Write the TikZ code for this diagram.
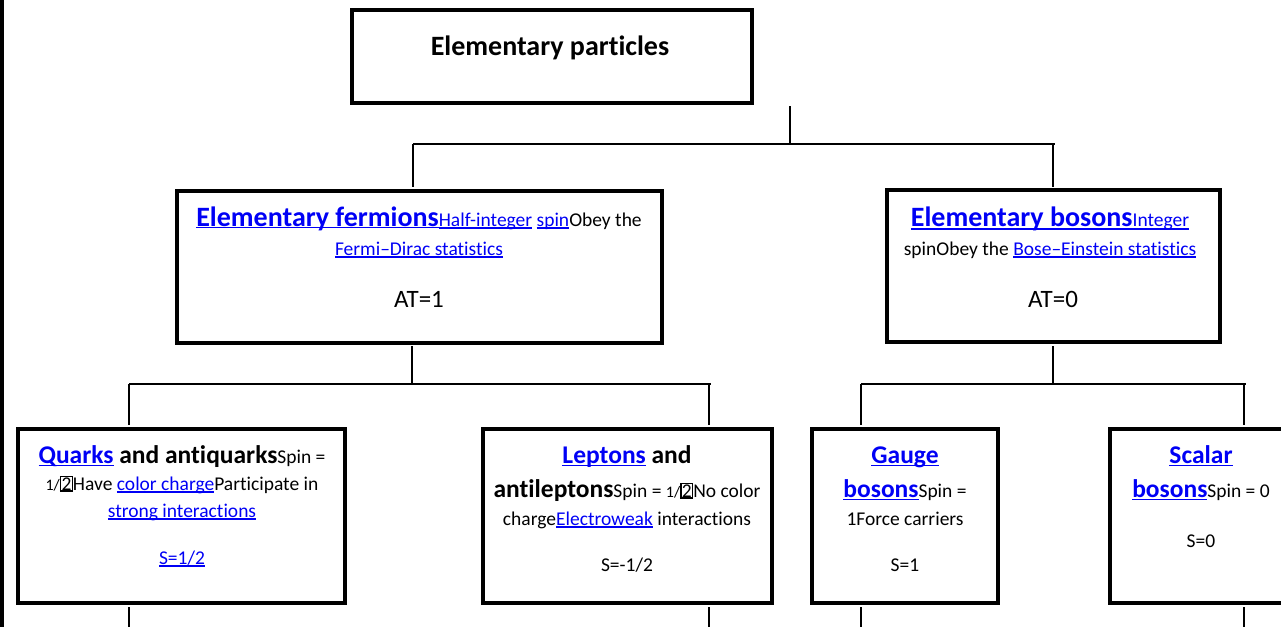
\documentclass[tikz,border=0pt]{standalone}
\usepackage{fontspec}
\setmainfont{Carlito}[Ligatures=NoCommon]
\definecolor{lb}{RGB}{0,0,245}
\newcommand\lk[1]{\textcolor{lb}{\setbox0\hbox{#1}\rlap{\rule[-0.13em]{\wd0}{0.065em}}\box0}}
\newcommand\fB{\fontsize{28}{28}\selectfont\bfseries}
\newcommand\fM{\fontsize{25.5}{25.5}\selectfont\bfseries}
\newcommand\fS{\fontsize{19.5}{19.5}\selectfont\mdseries}
\newcommand\fT{\fontsize{16}{16}\selectfont\mdseries}
\newcommand\fA{\fontsize{25}{25}\selectfont\mdseries}
\newcommand\tw{{\fT 1/}{\fS\setlength\fboxsep{0.3pt}\setlength\fboxrule{1.3pt}\fbox{2}}}
\tikzset{
  pbox/.style={draw=black, line width=4.5pt, inner sep=0pt},
  conn/.style={draw=black, line width=2pt},
  tl/.style={anchor=base, inner sep=0pt, text=black}
}
\begin{document}
\begin{tikzpicture}[x=1pt,y=-1pt]
\useasboundingbox (0,0) rectangle (1281,627);
\begin{scope}
\clip (0,0) rectangle (1281,627);
% left bar
\fill[black] (0,0) rectangle (4,627);
% boxes
\node[pbox, minimum width=400pt, minimum height=93pt] (top) at (552,56.5) {};
\node[pbox, minimum width=485pt, minimum height=152pt] (ferm) at (419.5,267) {};
\node[pbox, minimum width=333pt, minimum height=152pt] (bos) at (1053.5,266) {};
\node[pbox, minimum width=327pt, minimum height=174pt] (quark) at (181.5,516) {};
\node[pbox, minimum width=289pt, minimum height=174pt] (lept) at (627.5,516) {};
\node[pbox, minimum width=186pt, minimum height=174pt] (gauge) at (905,516) {};
\node[pbox, minimum width=182pt, minimum height=174pt] (scal) at (1201,516) {};
% connector points
\coordinate (t1) at (790,106);
\coordinate (t2) at (790,144);
\coordinate (hL) at (413,144);
\coordinate (hR) at (1055,144);
\coordinate (fU) at (413,187);
\coordinate (bU) at (1053,187);
\coordinate (fD1) at (412,346);
\coordinate (fD2) at (412,384);
\coordinate (bD1) at (1053,346);
\coordinate (bD2) at (1053,384);
\coordinate (gL) at (129,384);
\coordinate (gR) at (711,384);
\coordinate (kL) at (861,384);
\coordinate (kR) at (1246,384);
\coordinate (qU) at (129,425);
\coordinate (lU) at (709,425);
\coordinate (gaU) at (861,425);
\coordinate (sU) at (1244,425);
\coordinate (qD) at (129,607);
\coordinate (lD) at (709,607);
\coordinate (gaD) at (861,607);
\coordinate (sD) at (1244,607);
\coordinate (qE) at (129,627);
\coordinate (lE) at (709,627);
\coordinate (gaE) at (861,627);
\coordinate (sE) at (1244,627);
\draw[conn] (t1) -- (t2);
\draw[conn] (hL) -- (hR);
\draw[conn] (hL) -- (fU);
\draw[conn] (hR -| bU) -- (bU);
\draw[conn] (fD1) -- (fD2);
\draw[conn] (bD1) -- (bD2);
\draw[conn] (gL) -- (gR);
\draw[conn] (kL) -- (kR);
\draw[conn] (gL) -- (qU);
\draw[conn] (gR -| lU) -- (lU);
\draw[conn] (kL) -- (gaU);
\draw[conn] (kR -| sU) -- (sU);
\draw[conn] (qD) -- (qE);
\draw[conn] (lD) -- (lE);
\draw[conn] (gaD) -- (gaE);
\draw[conn] (sD) -- (sE);
% texts
\node[tl] (ttop) at (550,55) {\fB Elementary particles};
\node[tl] (f1) at (419,226) {\lk{\fB Elementary fermions}{\fS\lk{Half-integer} \lk{spin}Obey the}};
\node[tl] (f2) at (419,255) {\fS\lk{Fermi–Dirac statistics}};
\node[tl] (f3) at (419,307) {\fA AT=1};
\node[tl] (b1) at (1050,226) {\fB\lk{Elementary bosons{\fS Integer}}};
\node[tl] (b2) at (1050,255) {\fS spinObey the \lk{Bose–Einstein statistics}};
\node[tl] (b3) at (1053,307) {\fA AT=0};
\node[tl] (q1) at (182,463) {\fM\lk{Quarks} and antiquarks{\fS Spin =}};
\node[tl] (q2) at (182,490) {\fS\tw Have \lk{color charge}Participate in};
\node[tl] (q3) at (182,517) {\fS\lk{strong interactions}};
\node[tl] (q4) at (182,564) {\fS\lk{S=1/2}};
\node[tl] (l1) at (627,463) {\fM\lk{Leptons} and};
\node[tl] (l2) at (627,497) {\fM antileptons{\fS Spin = \tw No color}};
\node[tl] (l3) at (627,525) {\fS charge\lk{Electroweak} interactions};
\node[tl] (l4) at (627,571) {\fS S=-1/2};
\node[tl] (g1) at (905,463) {\fM\lk{Gauge}};
\node[tl] (g2) at (905,497) {\fM\lk{bosons}{\fS Spin =}};
\node[tl] (g3) at (905,525) {\fS 1Force carriers};
\node[tl] (g4) at (905,571) {\fS S=1};
\node[tl] (s1) at (1201,463) {\fM\lk{Scalar}};
\node[tl] (s2) at (1201,497) {\fM\lk{bosons}{\fS Spin = 0}};
\node[tl] (s3) at (1201,547) {\fS S=0};
\end{scope}
\end{tikzpicture}
\end{document}
